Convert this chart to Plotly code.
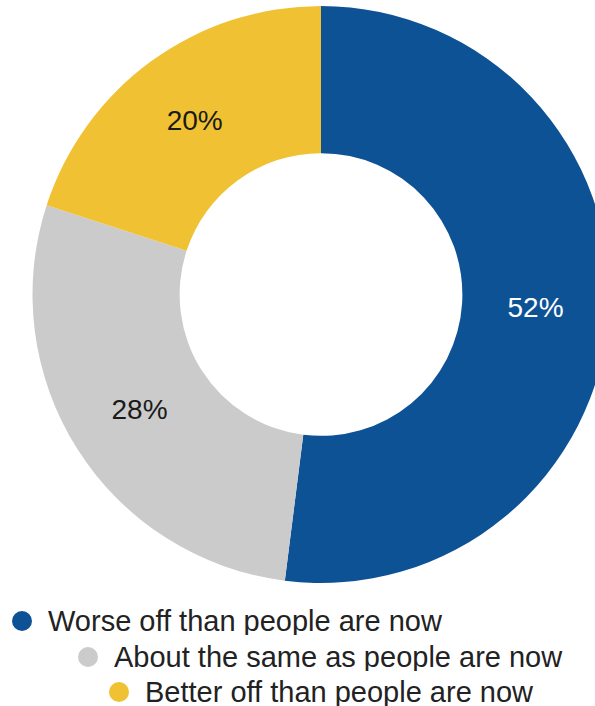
import plotly.graph_objects as go

# ---- data ----
labels = ["Worse off than people are now",
          "About the same as people are now",
          "Better off than people are now"]
values = [52, 28, 20]
colors = ["#0E5296", "#CBCBCB", "#F0C132"]
text_colors = ["#FFFFFF", "#1A1A1A", "#1A1A1A"]

# ---- layout geometry (pixels) ----
W, H = 640, 706
L, R, T, B = 32, 30, 6, 123
PW, PH = W - L - R, H - T - B
FONT = "Arial, Liberation Sans, Helvetica, sans-serif"

def px2paper(px, py):
    return (px - L) / PW, 1 - (py - T) / PH

fig = go.Figure(go.Pie(
    labels=labels,
    values=values,
    hole=0.49,
    sort=False,
    direction="clockwise",
    rotation=0,
    marker=dict(colors=colors, line=dict(width=0)),
    texttemplate="%{value}%",
    textposition="inside",
    insidetextorientation="horizontal",
    insidetextfont=dict(family=FONT, size=28, color=text_colors),
    showlegend=False,
    hoverinfo="label+percent",
))

# custom staggered legend
legend_pos = [(22, 621), (88, 657), (119, 692)]
shapes, annotations = [], []
for lab, col, (mx, my) in zip(labels, colors, legend_pos):
    x, y = px2paper(mx, my)
    shapes.append(dict(type="circle", xref="paper", yref="paper",
                       xsizemode="pixel", ysizemode="pixel",
                       xanchor=x, yanchor=y, x0=-10, x1=10, y0=-10, y1=10,
                       fillcolor=col, line=dict(width=0)))
    tx, ty = px2paper(mx + 25, my)
    annotations.append(dict(text=lab, xref="paper", yref="paper", x=tx, y=ty,
                            xanchor="left", yanchor="middle", showarrow=False,
                            height=28, valign="middle", borderpad=0,
                            font=dict(family=FONT, size=29, color="#222222")))

fig.update_layout(
    width=W, height=H,
    margin=dict(l=L, r=R, t=T, b=B),
    paper_bgcolor="white", plot_bgcolor="white",
    shapes=shapes, annotations=annotations,
)

fig.write_html(
    "out.html",
    config={"displayModeBar": False},
    post_script="document.body.style.margin='0';document.body.style.overflow='hidden';",
)
